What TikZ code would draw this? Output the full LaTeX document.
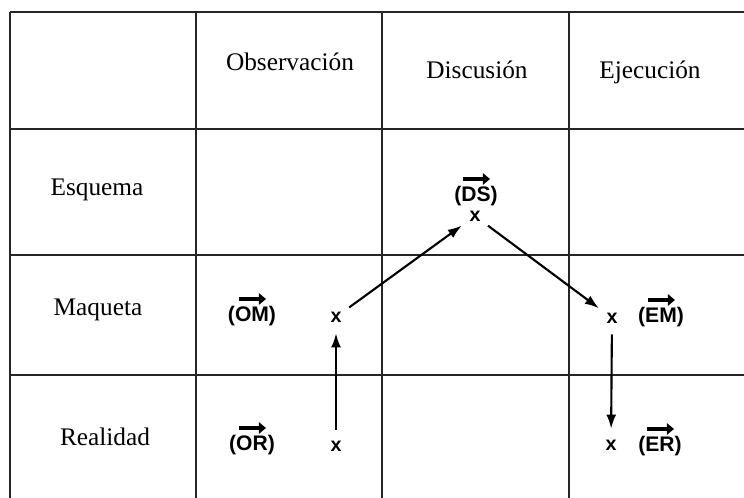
\documentclass[tikz,border=0pt]{standalone}
\usepackage{fontspec}
\setmainfont{Liberation Serif}
\setsansfont{Liberation Sans}
\usetikzlibrary{arrows.meta}

\begin{document}
\begin{tikzpicture}[x=0.025cm, y=-0.025cm,
		grid/.style={line width=2pt, black!85},
		head/.style={font=\fontsize{18}{20}\selectfont},
		pt/.style={circle, inner sep=0pt, minimum size=0.8cm, font=\sffamily\bfseries\fontsize{14}{16}\selectfont},
		lbl/.style={font=\sffamily\bfseries\fontsize{15}{17}\selectfont},
		flow/.style={line width=1.5pt, -{Latex[length=10pt,width=7pt]}},
		vecarrow/.style={line width=3pt, -{Triangle[length=5pt,width=8pt]}}]
		
		\useasboundingbox (0,0) rectangle (744,498);
		
		% Grid
		\foreach \x in {10,196,382,569} {
			\draw[grid] (\x,12) -- (\x,498);
		}
		\foreach \y in {12,129,255,375} {
			\draw[grid] (10,\y) -- (744,\y);
		}
		
		% Column headers
		\node[head] (obs) at (290,62) {Observación};
		\node[head] (dis) at (477,70) {Discusión};
		\node[head] (eje) at (650,72) {Ejecución};
		
		% Row headers
		\node[head] (esq) at (97,190) {Esquema};
		\node[head] (maq) at (98,310) {Maqueta};
		\node[head] (rea) at (105,437) {Realidad};
		
		% Points
		\node[pt] (or) at (336,446) {x};
		\node[pt] (om) at (336,317) {x};
		\node[pt] (ds) at (475,216) {x};
		\node[pt] (em) at (612,318) {x};
		\node[pt] (er) at (611,445) {x};
		
		% Vector labels
		\foreach \n/\x/\y/\t in {orlab/252/445/OR, omlab/252/316/OM, dslab/476/196/DS, emlab/661/317/EM, erlab/660/446/ER} {
			\node[lbl, inner sep=1pt] (\n) at (\x,\y) {(\t)};
			\draw[vecarrow] ([shift={(-13,-17)}]\n.center) -- ([shift={(14,-17)}]\n.center);
		}
		
		% Path
		\draw[flow] (or) -- (om);
		\draw[flow] (om) -- (ds);
		\draw[flow] (ds) -- (em);
		\draw[flow] (em) -- (er);
		
	\end{tikzpicture}
\end{document}
